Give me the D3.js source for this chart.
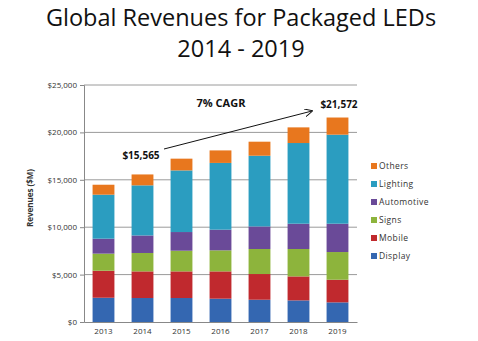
<!DOCTYPE html>
<html>
<head>
<meta charset="utf-8">
<script src="https://cdn.jsdelivr.net/npm/d3@7"></script>
<style>
  body { margin: 0; background: #fff; }
  text { font-family: "Open Sans", "DejaVu Sans", sans-serif; }
</style>
</head>
<body>
<script>
// data ($M)
const years = ["2013", "2014", "2015", "2016", "2017", "2018", "2019"]
const seriesNames = ["Display", "Mobile", "Signs", "Automotive", "Lighting", "Others"]
const display = [2560, 2530, 2530, 2460, 2350, 2280, 2070]
const mobile = [2850, 2810, 2810, 2880, 2710, 2530, 2390]
const signs = [1800, 1940, 2180, 2220, 2640, 2890, 2920]
const automotive = [1580, 1850, 1970, 2180, 2380, 2670, 2990]
const lighting = [4640, 5285, 6500, 7040, 7460, 8510, 9390]
const others = [1050, 1150, 1240, 1320, 1480, 1650, 1810]
const yTicks = [0, 5000, 10000, 15000, 20000, 25000]
const colors = ["#3467b1", "#c0292e", "#8db43c", "#6a4a98", "#2b9dc0", "#e8771e"]

const width = 478, height = 341
const margin = { top: 85, right: 121, bottom: 19, left: 84 }

const svg = d3.select("body").append("svg")
    .attr("width", width)
    .attr("height", height)

// title
svg.append("text")
    .attr("x", 241).attr("y", 26)
    .attr("text-anchor", "middle")
    .attr("font-size", 23.5)
    .attr("fill", "#111")
    .text("Global Revenues for Packaged LEDs")
svg.append("text")
    .attr("x", 241).attr("y", 57)
    .attr("text-anchor", "middle")
    .attr("font-size", 23.5)
    .attr("fill", "#111")
    .text("2014 - 2019")

// build table for stack
const table = years.map((y, i) => ({
    year: y,
    Display: display[i],
    Mobile: mobile[i],
    Signs: signs[i],
    Automotive: automotive[i],
    Lighting: lighting[i],
    Others: others[i]
}))
const stacked = d3.stack().keys(seriesNames)(table)

const x = d3.scaleBand()
    .domain(years)
    .range([margin.left, width - margin.right])
    .paddingInner(0.44)
    .paddingOuter(0.22)

const y = d3.scaleLinear()
    .domain([0, 25000])
    .range([height - margin.bottom, margin.top])

const g = svg.append("g")

// gridlines
g.selectAll(".grid")
    .data(yTicks.slice(1))
    .join("line")
    .attr("x1", margin.left)
    .attr("x2", width - margin.right)
    .attr("y1", d => y(d))
    .attr("y2", d => y(d))
    .attr("stroke", "#9a9a9a")
    .attr("stroke-width", 1)

// y axis
const yAxis = g.append("g")
    .attr("transform", `translate(${margin.left},0)`)
    .call(d3.axisLeft(y).tickValues(yTicks).tickSize(4).tickFormat(d => "$" + d3.format(",")(d)))
yAxis.select(".domain").attr("stroke", "#888")
yAxis.selectAll(".tick line").attr("stroke", "#888")
yAxis.selectAll("text").attr("font-size", 8).attr("fill", "#333").attr("x", -7)

// x axis
const xAxis = g.append("g")
    .attr("transform", `translate(0,${height - margin.bottom})`)
    .call(d3.axisBottom(x).tickSize(0))
xAxis.select(".domain").attr("stroke", "#888")
xAxis.selectAll("text").attr("font-size", 8).attr("fill", "#333").attr("dy", "1.1em")

// bars
g.selectAll(".series")
    .data(stacked)
    .join("g")
    .attr("fill", (d, i) => colors[i])
    .selectAll("rect")
    .data(d => d)
    .join("rect")
    .attr("x", d => x(d.data.year))
    .attr("y", d => y(d[1]))
    .attr("width", x.bandwidth())
    .attr("height", d => y(d[0]) - y(d[1]))

// y label
svg.append("text")
    .attr("transform", "translate(33,198) rotate(-90)")
    .attr("text-anchor", "middle")
    .attr("font-size", 8)
    .attr("font-weight", "bold")
    .attr("fill", "#333")
    .text("Revenues ($M)")

// legend
const legend = svg.append("g")
const legendItems = seriesNames.slice().reverse()
legendItems.forEach((name, i) => {
    const ly = 166 + i * 18
    legend.append("rect")
        .attr("x", 371).attr("y", ly - 3)
        .attr("width", 6).attr("height", 6)
        .attr("fill", colors[seriesNames.indexOf(name)])
    legend.append("text")
        .attr("x", 379).attr("y", ly + 3)
        .attr("font-size", 8.5)
        .attr("letter-spacing", 0.4)
        .attr("fill", "#333")
        .text(name)
})

// annotations
svg.append("defs").append("marker")
    .attr("id", "arrow")
    .attr("viewBox", "0 0 10 10")
    .attr("refX", 9).attr("refY", 5)
    .attr("markerWidth", 8).attr("markerHeight", 8)
    .attr("orient", "auto")
    .append("path")
    .attr("d", "M0,0 L10,5 L0,10")
    .attr("fill", "none")
    .attr("stroke", "#111")
    .attr("stroke-width", 1.2)

svg.append("line")
    .attr("x1", 164).attr("y1", 149)
    .attr("x2", 312).attr("y2", 111)
    .attr("stroke", "#111")
    .attr("stroke-width", 1)
    .attr("marker-end", "url(#arrow)")

svg.append("text")
    .attr("x", 141).attr("y", 159)
    .attr("text-anchor", "middle")
    .attr("font-size", 10)
    .attr("font-weight", "bold")
    .attr("fill", "#111")
    .text("$15,565")

svg.append("text")
    .attr("x", 339).attr("y", 108)
    .attr("text-anchor", "middle")
    .attr("font-size", 10)
    .attr("font-weight", "bold")
    .attr("fill", "#111")
    .text("$21,572")

svg.append("text")
    .attr("x", 221).attr("y", 107)
    .attr("text-anchor", "middle")
    .attr("font-size", 11)
    .attr("font-weight", "bold")
    .attr("fill", "#111")
    .text("7% CAGR")
</script>
</body>
</html>
